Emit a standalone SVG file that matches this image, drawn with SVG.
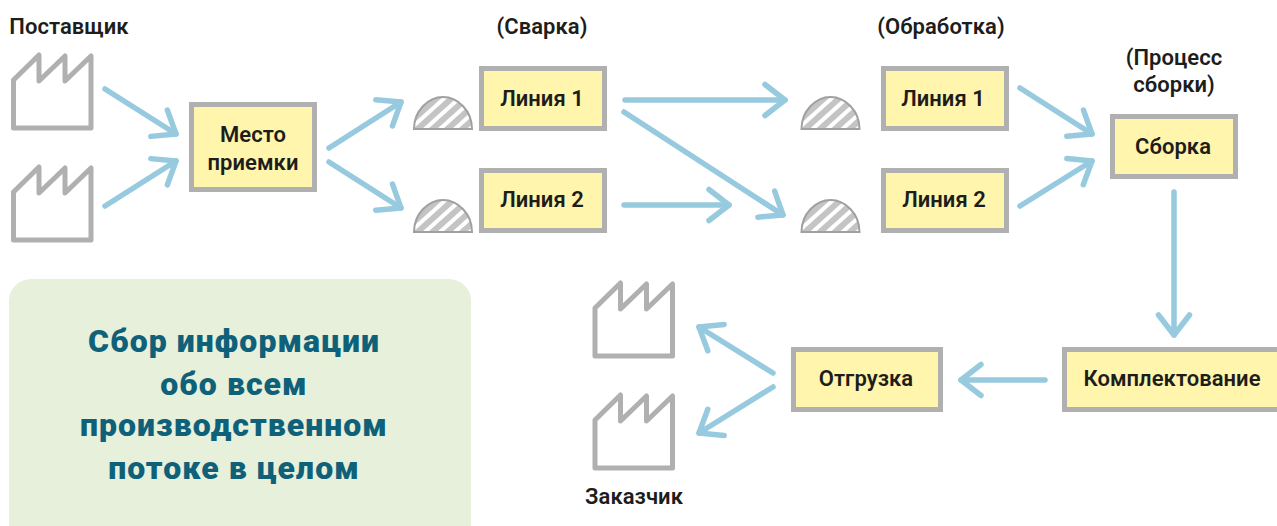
<svg xmlns="http://www.w3.org/2000/svg" width="1277" height="526" viewBox="0 0 1277 526">
<style>
.f{fill:#fff;stroke:#b0b0b0;stroke-width:5;stroke-linejoin:round}
.b{fill:#fff5ad;stroke:#b0b0b0;stroke-width:5}
.s{fill:url(#h);stroke:#a0a0a0;stroke-width:2}
.a{fill:none;stroke:#97cade;stroke-width:5.5;stroke-linecap:round;marker-end:url(#m)}
text{font-family:"Roboto","Liberation Sans",sans-serif;font-weight:600;font-size:22px;fill:#1d1d1b;text-anchor:middle;letter-spacing:.05px}
.p{font-weight:900;font-size:32px;fill:#0e6179;letter-spacing:1.05px}
</style>
<defs>
<marker id="m" markerUnits="userSpaceOnUse" viewBox="-30 -25 35 50" refX="0" refY="0" markerWidth="35" markerHeight="50" orient="auto" overflow="visible">
<path d="M-20,-15.5L0,0L-20,15.5" fill="none" stroke="#97cade" stroke-width="5.5" stroke-linecap="round" stroke-linejoin="round"/>
</marker>
<pattern id="h" patternUnits="userSpaceOnUse" width="10" height="10" patternTransform="rotate(-42)">
<rect width="10" height="10" fill="#fff"/><rect width="10" height="6" fill="#c4c4c4"/>
</pattern>
<path id="fa" class="f" d="M13.500,80L39,55V81L65,56V81L91,56V128H13.500Z"/>
<path id="se" class="s" d="M-29,0C-29,-18 -15,-32 0,-32C15,-32 29,-18 29,0Z"/>
</defs>
<g id="panel"><rect x="9" y="279" width="462" height="270" rx="22" fill="#e7f0da"/>
<text class="p" x="234" y="352">Сбор информации</text>
<text class="p" x="234" y="395">обо всем</text>
<text class="p" x="234" y="436">производственном</text>
<text class="p" x="234" y="479">потоке в целом</text></g>
<g id="connectors">
<path class="a" d="M105,89L176,134"/>
<path class="a" d="M105,206L176,161"/>
<path class="a" d="M329,148L401,102"/>
<path class="a" d="M329,162L401,208"/>
<path class="a" d="M625,100H785"/>
<path class="a" d="M624,112L783,215"/>
<path class="a" d="M624,205H729"/>
<path class="a" d="M1020,88L1092,134"/>
<path class="a" d="M1020,206L1092,161"/>
<path class="a" d="M1174,192V335"/>
<path class="a" d="M1045,380H961"/>
<path class="a" d="M773,373L699,327"/>
<path class="a" d="M773,387L699,433"/>
</g>
<g id="supplier1"><use href="#fa"/></g>
<g id="supplier2"><use href="#fa" y="112"/></g>
<g id="customer1"><use href="#fa" x="581.500" y="228"/></g>
<g id="customer2"><use href="#fa" x="581.500" y="340"/></g>
<g id="supply1"><use href="#se" x="443" y="129"/></g>
<g id="supply2"><use href="#se" x="443" y="232"/></g>
<g id="supply3"><use href="#se" x="830.500" y="129"/></g>
<g id="supply4"><use href="#se" x="830.500" y="232"/></g>
<g id="receiving"><rect class="b" x="191.500" y="104.500" width="123" height="85"/><text x="253" y="142">Место</text><text x="253" y="170">приемки</text></g>
<g id="weld1"><rect class="b" x="481.500" y="68.500" width="123" height="60"/><text x="542" y="106">Линия 1</text></g>
<g id="weld2"><rect class="b" x="481.500" y="170.500" width="123" height="60"/><text x="542" y="207">Линия 2</text></g>
<g id="mach1"><rect class="b" x="883.500" y="68.500" width="123" height="60"/><text x="943" y="106">Линия 1</text></g>
<g id="mach2"><rect class="b" x="883.500" y="170.500" width="123" height="60"/><text x="944" y="207">Линия 2</text></g>
<g id="assembly"><rect class="b" x="1112.500" y="116.500" width="123" height="60"/><text x="1173" y="154">Сборка</text></g>
<g id="picking"><rect class="b" x="1064.500" y="349.500" width="240" height="60"/><text x="1172" y="386">Комплектование</text></g>
<g id="shipping"><rect class="b" x="793.500" y="349.500" width="147" height="60"/><text x="866" y="386">Отгрузка</text></g>
<g id="labels">
<text x="69" y="34">Поставщик</text>
<text x="542" y="34">(Сварка)</text>
<text x="941" y="34">(Обработка)</text>
<text x="1174" y="65">(Процесс</text>
<text x="1174" y="92">сборки)</text>
<text x="634" y="504">Заказчик</text>
</g>
</svg>
